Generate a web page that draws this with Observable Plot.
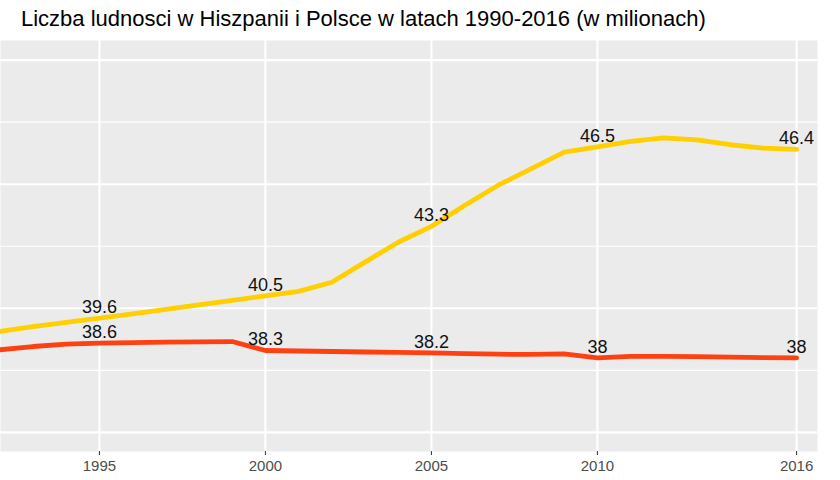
<!DOCTYPE html>
<html>
<head>
<meta charset="utf-8">
<script src="https://cdn.jsdelivr.net/npm/d3@7"></script>
<script src="https://cdn.jsdelivr.net/npm/@observablehq/plot@0.6"></script>
<style>
  body { margin: 0; background: #fff; font-family: "Liberation Sans", Arial, sans-serif; }
  #title {
    height: 40px; box-sizing: border-box; padding: 7px 0 0 21px;
    font-size: 22px; line-height: 24px; color: #000; white-space: nowrap;
  }
  #chart svg { display: block; }
</style>
</head>
<body>
<div id="title">Liczba ludnosci w Hiszpanii i Polsce w latach 1990-2016 (w milionach)</div>
<div id="chart"></div>
<script>
// Population by year, in millions
const years = [1992, 1993, 1994, 1995, 1996, 1997, 1998, 1999, 2000, 2001, 2002, 2003, 2004,
               2005, 2006, 2007, 2008, 2009, 2010, 2011, 2012, 2013, 2014, 2015, 2016];
const spain = [39.07, 39.26, 39.43, 39.6, 39.78, 39.96, 40.14, 40.32, 40.5, 40.68, 41.05, 41.86, 42.66,
               43.3, 44.14, 44.95, 45.62, 46.29, 46.5, 46.73, 46.87, 46.79, 46.59, 46.45, 46.4];
const poland = [38.33, 38.46, 38.56, 38.6, 38.62, 38.64, 38.65, 38.66, 38.3, 38.28, 38.26, 38.24, 38.22,
                38.2, 38.17, 38.15, 38.14, 38.16, 38.0, 38.06, 38.06, 38.05, 38.03, 38.01, 38.0];
const countries = ["Hiszpania", "Polska"];
const colors = ["#FFCF00", "#FF4010"];

// Years that carry a value label and an axis tick
const labelYears = [1995, 2000, 2005, 2010, 2016];
const xTicks = [1995, 2000, 2005, 2010, 2016];
const yMajor = [35, 40, 45, 50];
const yMinor = [37.5, 42.5, 47.5];

const rows = [
  ...years.map((year, i) => ({country: countries[0], year, value: spain[i]})),
  ...years.map((year, i) => ({country: countries[1], year, value: poland[i]}))
];
const labelRows = rows.filter(d => labelYears.includes(d.year));

const chart = Plot.plot({
  width: 840,
  height: 440,
  marginLeft: 0,
  marginRight: 23,
  marginTop: 0,
  marginBottom: 29,
  x: {domain: [1992.02, 2016.63], axis: null},
  y: {domain: [34.23, 50.79], axis: null},
  color: {domain: countries, range: colors},
  style: {fontFamily: "'Liberation Sans', Arial, sans-serif", background: "white", overflow: "visible"},
  marks: [
    Plot.frame({fill: "#EBEBEB", stroke: null}),
    Plot.ruleY(yMinor, {stroke: "white", strokeWidth: 1.1}),
    Plot.ruleY(yMajor, {stroke: "white", strokeWidth: 2.1}),
    Plot.ruleX(xTicks, {stroke: "white", strokeWidth: 2.1}),
    Plot.line(rows, {
      x: "year", y: "value", z: "country", stroke: "country",
      strokeWidth: 4.8, strokeLinejoin: "round", clip: true
    }),
    Plot.text(labelRows, {
      x: "year", y: "value", text: d => String(+d.value),
      dy: -5, lineAnchor: "bottom", fontSize: 18, fill: "#111"
    }),
    Plot.axisX(xTicks, {
      tickSize: 4, tickPadding: 5, fontSize: 15, fill: "#4D4D4D", stroke: "#333",
      label: null, tickFormat: d => String(d)
    })
  ]
});
document.getElementById("chart").append(chart);
</script>
</body>
</html>
